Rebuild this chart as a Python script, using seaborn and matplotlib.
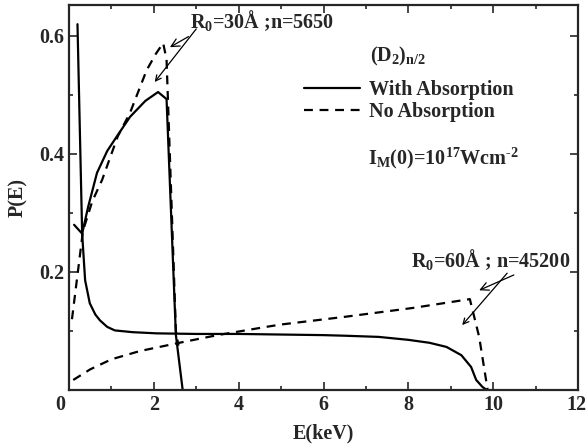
import matplotlib
matplotlib.use("Agg")
import matplotlib.pyplot as plt
import matplotlib.transforms as mtrans
import seaborn as sns
import pandas as pd

# ---- data ----
e_30_abs = [0.12, 0.31, 0.45, 0.66, 0.90, 1.13, 1.44, 1.80, 2.10, 2.30, 2.52, 2.68]
p_30_abs = [0.280, 0.265, 0.310, 0.368, 0.405, 0.430, 0.463, 0.490, 0.505, 0.493, 0.093, 0.0]

e_30_noabs = [0.07, 0.33, 0.55, 0.78, 1.15, 1.44, 1.83, 2.05, 2.22, 2.30, 2.52, 2.58]
p_30_noabs = [0.120, 0.270, 0.320, 0.356, 0.430, 0.470, 0.542, 0.570, 0.588, 0.560, 0.100, 0.075]

e_60_abs = [0.20, 0.31, 0.38, 0.49, 0.62, 0.73, 0.90, 1.08, 1.50, 2.07, 3.0, 4.0, 5.0,
            6.0, 6.5, 7.3, 8.0, 8.5, 8.9, 9.25, 9.48, 9.60, 9.75, 9.85]
p_60_abs = [0.620, 0.265, 0.186, 0.147, 0.128, 0.118, 0.107, 0.101, 0.098, 0.096, 0.095,
            0.095, 0.094, 0.093, 0.092, 0.090, 0.085, 0.080, 0.073, 0.059, 0.039, 0.017,
            0.005, 0.0]

e_60_noabs = [0.10, 0.50, 1.00, 1.67, 2.60, 3.50, 4.65, 5.00, 6.50, 8.10, 9.45, 9.67, 9.87]
p_60_noabs = [0.017, 0.035, 0.052, 0.066, 0.080, 0.093, 0.107, 0.111, 0.124, 0.139, 0.154,
              0.090, 0.0]

x_ticks = [0, 2, 4, 6, 8, 10, 12]
y_ticks = [0.2, 0.4, 0.6]

sns.set_style("ticks")
plt.rcParams['font.family'] = ['Liberation Serif', 'DejaVu Serif']
plt.rcParams['font.weight'] = 'bold'
plt.rcParams['mathtext.fontset'] = 'custom'
plt.rcParams['mathtext.rm'] = 'Liberation Serif:bold'
plt.rcParams['mathtext.it'] = 'Liberation Serif:bold'
plt.rcParams['mathtext.bf'] = 'Liberation Serif:bold'

fig = plt.figure(figsize=(5.86, 4.45), dpi=100)
ax = fig.add_axes([69/586, 55/445, 509/586, 385/445])

def df(e, p):
    return pd.DataFrame({"E": e, "P": p})

lw = 1.6
dash = (0, (4, 3))
sns.lineplot(data=df(e_30_abs, p_30_abs), x="E", y="P", sort=False, color="black",
             lw=lw, ax=ax, label="With Absorption")
sns.lineplot(data=df(e_30_noabs, p_30_noabs), x="E", y="P", sort=False, color="black",
             lw=lw, ls=dash, ax=ax, label="No Absorption")
sns.lineplot(data=df(e_60_abs, p_60_abs), x="E", y="P", sort=False, color="black",
             lw=lw, ax=ax, label="_nolegend_")
sns.lineplot(data=df(e_60_noabs, p_60_noabs), x="E", y="P", sort=False, color="black",
             lw=lw, ls=dash, ax=ax, label="_nolegend_")

ax.set_xlim(0, 12)
ax.set_ylim(0, 0.6525)
ax.set_xticks(x_ticks)
ax.set_xticks([1, 3, 5, 7, 9, 11], minor=True)
ax.set_yticks(y_ticks)
ax.set_yticks([0.1, 0.3, 0.5], minor=True)
ax.set_xticklabels([str(t) for t in x_ticks])
ax.set_yticklabels([f"{t:.1f}" for t in y_ticks])
fs = 14.5
ax.tick_params(which='both', direction='in', top=True, right=True, width=1.2,
               labelsize=fs)
ax.tick_params(which='major', length=6)
ax.tick_params(which='minor', length=3)
for s in ax.spines.values():
    s.set_linewidth(1.6)

# shift the "0" and "12" x labels a little, as in the reference
xl = ax.get_xticklabels()
xl[0].set_transform(xl[0].get_transform() + mtrans.ScaledTranslation(-9/100, 0, fig.dpi_scale_trans))
xl[-1].set_transform(xl[-1].get_transform() + mtrans.ScaledTranslation(-2/100, 0, fig.dpi_scale_trans))

ax.set_xlabel("E(keV)", fontsize=fs, fontweight='bold', labelpad=6)
ax.set_ylabel("P(E)", fontsize=fs, fontweight='bold', labelpad=8)

ax.text(7.1, 0.557, "(D$_2$)$_{n/2}$", fontsize=fs, fontweight='bold',
        ha='left', va='baseline')
ax.text(7.04, 0.383, "I$_M$(0)=10$^{17}$Wcm$^{\u20102}$", fontsize=fs, fontweight='bold',
        ha='left', va='baseline')

leg = ax.legend(loc='upper left', bbox_to_anchor=(0.445, 0.826), frameon=False,
                fontsize=fs, handlelength=2.8, handletextpad=0.45, labelspacing=0.12,
                borderaxespad=0)
for t in leg.get_texts():
    t.set_fontweight('bold')

arrow = dict(arrowstyle='->', color='black', lw=0.9, shrinkA=0, shrinkB=0)
ax.annotate("R$_0$=30Å ;n=5650", xy=(2.38, 0.581), xytext=(2.85, 0.613),
            fontsize=fs, fontweight='bold', ha='left', va='baseline',
            arrowprops=dict(arrow, relpos=(0.03, 0.0)))
ax.annotate("", xy=(2.02, 0.522), xytext=(3.0, 0.612), arrowprops=arrow)

ax.annotate("R$_0$=60Å ; n=45200", xy=(9.67, 0.169), xytext=(8.07, 0.209),
            fontsize=fs, fontweight='bold', ha='left', va='baseline',
            arrowprops=dict(arrow, relpos=(0.69, 0.0)))
ax.annotate("", xy=(9.27, 0.11), xytext=(10.33, 0.198), arrowprops=arrow)

fig.savefig("out.png", dpi=100)
